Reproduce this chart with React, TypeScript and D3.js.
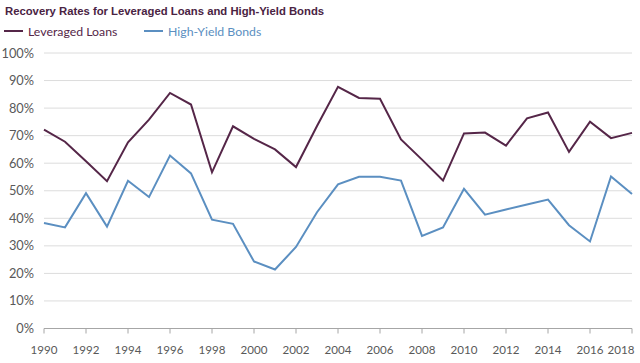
import * as d3 from "d3";
import { useEffect } from "react";

const years = d3.range(1990, 2019);
const leveragedLoans = [
  72.2, 67.8, 60.7, 53.5, 67.6, 75.8, 85.5, 81.3, 56.7, 73.4, 68.8, 65.0, 58.6, 73.5, 87.7,
  83.7, 83.4, 68.6, 61.3, 53.7, 70.8, 71.1, 66.4, 76.3, 78.4, 64.1, 75.1, 69.1, 71.0,
];
const highYieldBonds = [
  38.3, 36.7, 49.1, 37.0, 53.6, 47.7, 62.8, 56.3, 39.5, 38.0, 24.3, 21.4, 29.6, 42.2, 52.3,
  55.1, 55.1, 53.7, 33.6, 36.7, 50.7, 41.3, 43.2, 45.0, 46.8, 37.5, 31.6, 55.2, 48.8,
];
const yTicks = [0, 10, 20, 30, 40, 50, 60, 70, 80, 90, 100];
const xTickYears = d3.range(1990, 2019, 2);

const WIDTH = 640;
const HEIGHT = 363;
const MARGIN = { top: 53, right: 8, bottom: 34, left: 44 };
const PURPLE = "#552648";
const BLUE = "#5b8fc1";
const LABEL_FONT = "Lato, 'Open Sans', sans-serif";

export default function App() {
  useEffect(() => {
    document.body.style.margin = "0";
  }, []);

  const x = d3
    .scaleLinear()
    .domain([1990, 2018])
    .range([MARGIN.left, WIDTH - MARGIN.right]);
  const y = d3
    .scaleLinear()
    .domain([0, 100])
    .range([HEIGHT - MARGIN.bottom - 0.5, MARGIN.top]);

  const line = d3
    .line<number>()
    .x((_, i) => x(years[i]))
    .y((d) => y(d));

  const series = [
    { name: "Leveraged Loans", values: leveragedLoans, color: PURPLE, lx: 4 },
    { name: "High-Yield Bonds", values: highYieldBonds, color: BLUE, lx: 144 },
  ];

  return (
    <svg width={WIDTH} height={HEIGHT} style={{ display: "block", background: "#fff" }}>
      <text
        x={5}
        y={15}
        fontFamily="'Liberation Sans', Arial, sans-serif"
        fontWeight="bold"
        fontSize={11.3}
        fill="#4a2343"
      >
        Recovery Rates for Leveraged Loans and High-Yield Bonds
      </text>

      {series.map((s) => (
        <g key={s.name}>
          <line x1={s.lx} x2={s.lx + 19} y1={31} y2={31} stroke={s.color} strokeWidth={2} />
          <text x={s.lx + 24} y={35.5} fontFamily={LABEL_FONT} fontSize={12.3} fill={s.color}>
            {s.name}
          </text>
        </g>
      ))}

      {yTicks.map((t) => (
        <g key={t}>
          {t > 0 && (
            <line
              x1={MARGIN.left}
              x2={WIDTH - MARGIN.right}
              y1={y(t)}
              y2={y(t)}
              stroke="#dcdcdc"
              strokeWidth={1}
            />
          )}
          <text
            x={34}
            y={y(t) + 4.5}
            textAnchor="end"
            fontFamily={LABEL_FONT}
            fontSize={12.8}
            fill="#595959"
          >
            {t}%
          </text>
        </g>
      ))}

      <line
        x1={MARGIN.left}
        x2={WIDTH - MARGIN.right}
        y1={y(0)}
        y2={y(0)}
        stroke="#a6a6a6"
        strokeWidth={1}
      />
      {xTickYears.map((yr) => (
        <line
          key={`t${yr}`}
          x1={x(yr)}
          x2={x(yr)}
          y1={y(0)}
          y2={y(0) + 5}
          stroke="#a6a6a6"
          strokeWidth={1}
        />
      ))}
      {xTickYears.map((yr) => (
        <text
          key={yr}
          x={Math.min(x(yr), WIDTH - 19)}
          y={y(0) + 25}
          textAnchor="middle"
          fontFamily={LABEL_FONT}
          fontSize={11.6}
          fill="#595959"
        >
          {yr}
        </text>
      ))}

      {series.map((s) => (
        <path
          key={`p${s.name}`}
          d={line(s.values) ?? ""}
          fill="none"
          stroke={s.color}
          strokeWidth={2}
          strokeLinejoin="miter"
        />
      ))}
    </svg>
  );
}
